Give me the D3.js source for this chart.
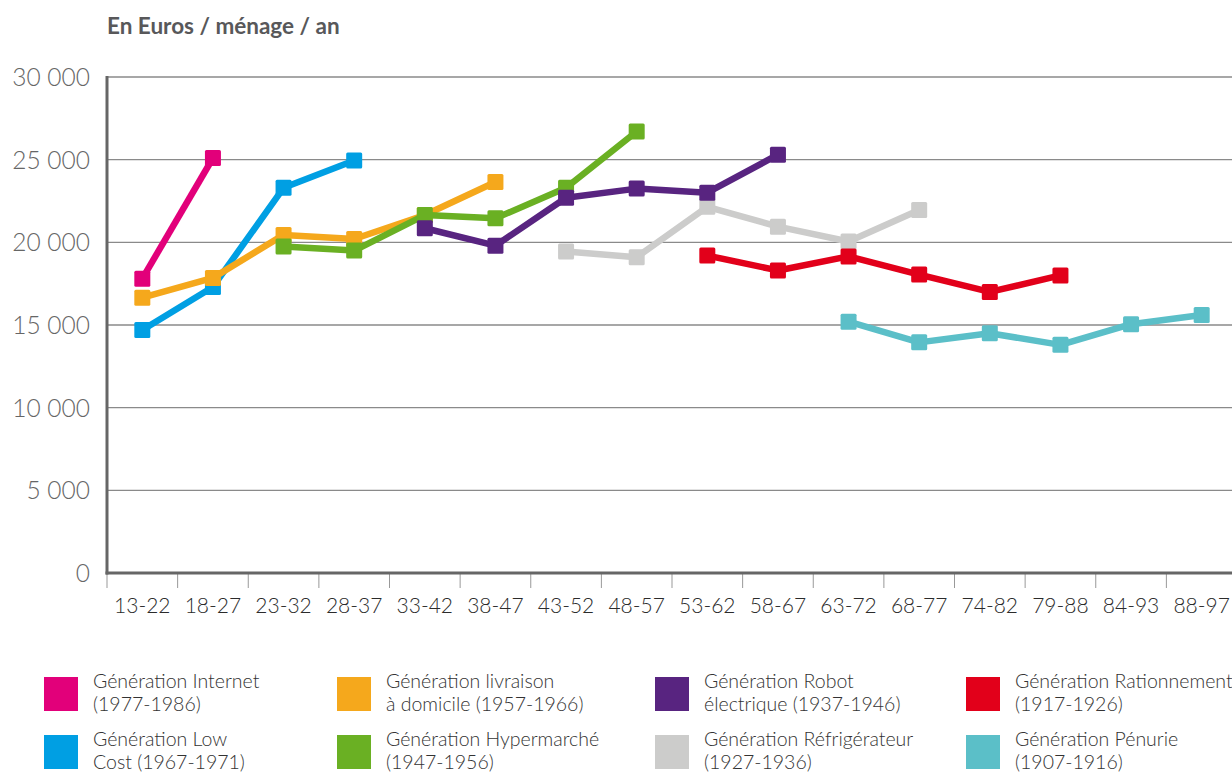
<!DOCTYPE html>
<html><head><meta charset="utf-8">
<script src="https://cdn.jsdelivr.net/npm/d3@7"></script>
<style>
html,body{margin:0;padding:0;background:#fff;}
svg{display:block;}
text{font-family:Lato,"Open Sans","Noto Sans",sans-serif;}
</style></head>
<body>
<svg id="chart" width="1232" height="774"></svg>
<script>
const categories = ["13-22","18-27","23-32","28-37","33-42","38-47","43-52","48-57","53-62","58-67","63-72","68-77","74-82","79-88","84-93","88-97"];
const yTicks = [0, 5000, 10000, 15000, 20000, 25000, 30000];
const yTickLabels = ["0", "5 000", "10 000", "15 000", "20 000", "25 000", "30 000"];
const title = "En Euros / ménage / an";

const _ = null;
const internet  = [17800, 25100, _, _, _, _, _, _, _, _, _, _, _, _, _, _];
const lowCost   = [14700, 17300, 23300, 24950, _, _, _, _, _, _, _, _, _, _, _, _];
const livraison = [16650, 17850, 20450, 20200, 21650, 23650, _, _, _, _, _, _, _, _, _, _];
const hyper     = [_, _, 19750, 19500, 21650, 21450, 23300, 26700, _, _, _, _, _, _, _, _];
const robot     = [_, _, _, _, 20850, 19800, 22700, 23250, 23000, 25300, _, _, _, _, _, _];
const refrig    = [_, _, _, _, _, _, 19450, 19100, 22150, 20950, 20050, 21950, _, _, _, _];
const ration    = [_, _, _, _, _, _, _, _, 19200, 18300, 19150, 18050, 17000, 18000, _, _];
const penurie   = [_, _, _, _, _, _, _, _, _, _, 15200, 13950, 14500, 13800, 15050, 15600];

const seriesNames = [
  ["Génération Internet", "(1977-1986)"],
  ["Génération Low", "Cost (1967-1971)"],
  ["Génération livraison", "à domicile (1957-1966)"],
  ["Génération Hypermarché", "(1947-1956)"],
  ["Génération Robot", "électrique (1937-1946)"],
  ["Génération Réfrigérateur", "(1927-1936)"],
  ["Génération Rationnement", "(1917-1926)"],
  ["Génération Pénurie", "(1907-1916)"]
];
const seriesValues = [internet, lowCost, livraison, hyper, robot, refrig, ration, penurie];
const seriesColors = ["#e2007a", "#009fe3", "#f5a81c", "#6ab023", "#582480", "#cccccb", "#e2001a", "#5bbfc8"];
const drawOrder = [5, 1, 2, 3, 4, 6, 7, 0];

const svg = d3.select("#chart");
const x = d3.scaleBand().domain(categories).range([107, 1237]);
const y = d3.scaleLinear().domain([0, 30000]).range([573, 77]);

// title
svg.append("text").attr("x", 107).attr("y", 34)
  .attr("font-size", 22.5).attr("font-weight", 700).attr("fill", "#58585a")
  .text(title);

// gridlines
svg.append("g").selectAll("line").data(yTicks.filter(d => d > 0)).join("line")
  .attr("x1", 107).attr("x2", 1232)
  .attr("y1", d => y(d)).attr("y2", d => y(d))
  .attr("stroke", "#8a8a8a").attr("stroke-width", 1.3);

// y labels
svg.append("g").selectAll("text").data(yTicks).join("text")
  .attr("x", 90).attr("y", d => y(d) + 9)
  .attr("text-anchor", "end").attr("font-size", 24.5).attr("font-weight", 300)
  .attr("fill", "#666")
  .text((d, i) => yTickLabels[i]);

// x ticks at band boundaries
const bounds = categories.map(c => x(c));
svg.append("g").selectAll("line").data(bounds).join("line")
  .attr("x1", d => d).attr("x2", d => d)
  .attr("y1", 573).attr("y2", 588)
  .attr("stroke", "#999").attr("stroke-width", 1);

// x labels
svg.append("g").selectAll("text").data(categories).join("text")
  .attr("x", d => x(d) + x.bandwidth() / 2).attr("y", 613)
  .attr("text-anchor", "middle").attr("font-size", 21).attr("font-weight", 300)
  .attr("fill", "#2b2b2b")
  .text(d => d);

// axes
svg.append("line").attr("x1", 107).attr("x2", 107).attr("y1", 76).attr("y2", 574.5)
  .attr("stroke", "#666").attr("stroke-width", 3);
svg.append("line").attr("x1", 105.5).attr("x2", 1232).attr("y1", 573).attr("y2", 573)
  .attr("stroke", "#666").attr("stroke-width", 3);

// series
const line = d3.line()
  .defined(d => d.v !== null)
  .x(d => x(d.c) + x.bandwidth() / 2)
  .y(d => y(d.v));

drawOrder.forEach(i => {
  const pts = categories.map((c, j) => ({c, v: seriesValues[i][j]}));
  const g = svg.append("g");
  g.append("path").datum(pts).attr("d", line)
    .attr("fill", "none").attr("stroke", seriesColors[i])
    .attr("stroke-width", 6.5).attr("stroke-linejoin", "round");
  const s = 16;
  g.selectAll("rect").data(pts.filter(d => d.v !== null)).join("rect")
    .attr("x", d => x(d.c) + x.bandwidth() / 2 - s / 2)
    .attr("y", d => y(d.v) - s / 2)
    .attr("width", s).attr("height", s).attr("rx", 1.5)
    .attr("fill", seriesColors[i]);
});

// legend
const colX = [44, 337, 655, 966];
const rowY = [677, 735];
const legendLayout = [[0,0],[0,1],[1,0],[1,1],[2,0],[2,1],[3,0],[3,1]]; // [col,row] per series
const lg = svg.append("g");
seriesNames.forEach((nm, i) => {
  const [c, r] = legendLayout[i];
  const gx = colX[c], gy = rowY[r];
  lg.append("rect").attr("x", gx).attr("y", gy).attr("width", 34).attr("height", 34)
    .attr("fill", seriesColors[i]);
  const t = lg.append("text").attr("font-size", 19.5).attr("font-weight", 300).attr("fill", "#333");
  t.append("tspan").attr("x", gx + 49).attr("y", gy + 11).text(nm[0]);
  t.append("tspan").attr("x", gx + 49).attr("y", gy + 34).text(nm[1]);
});
</script>
</body></html>
